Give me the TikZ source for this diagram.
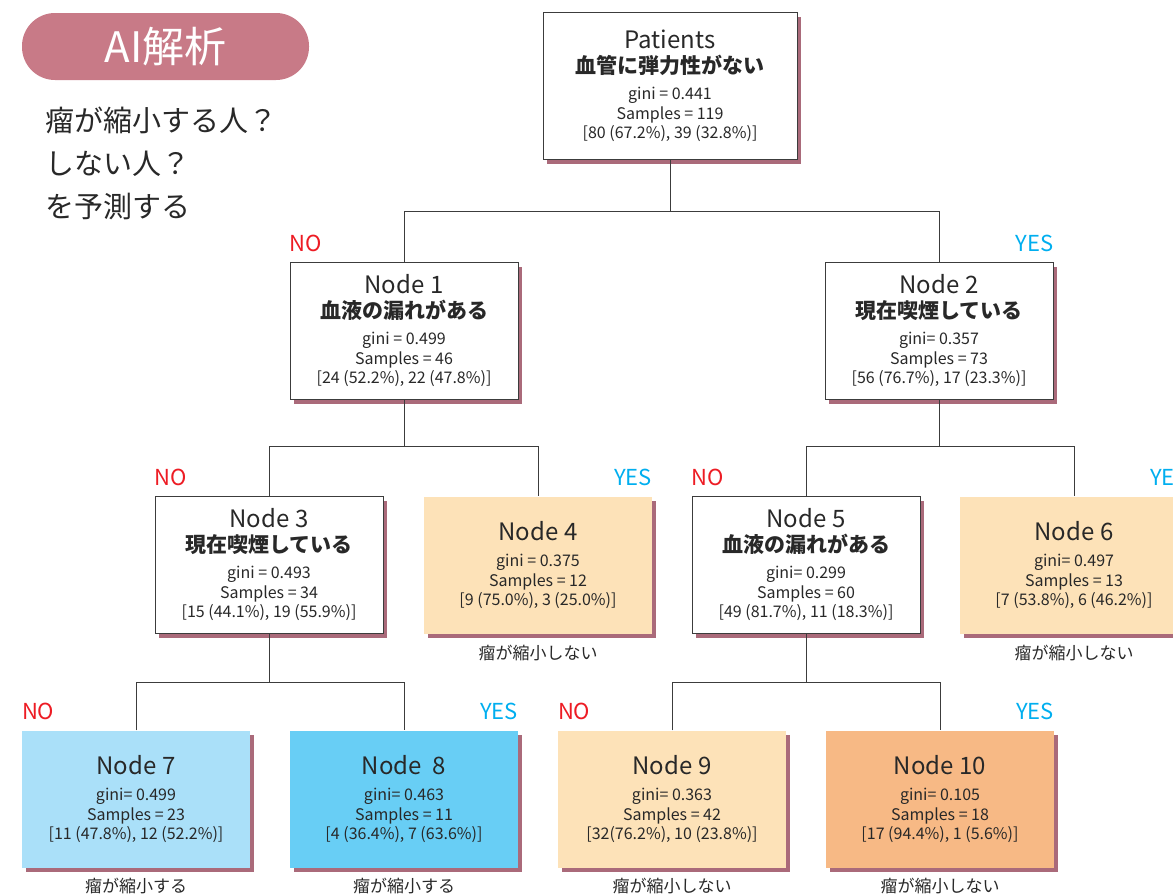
\documentclass[tikz,border=0pt]{standalone}
\usepackage{fontspec}
\setmainfont{Noto Sans CJK JP}
\usetikzlibrary{positioning,shadows}
\definecolor{shadowc}{RGB}{170,106,122}
\definecolor{pillc}{RGB}{200,122,135}
\definecolor{peach}{RGB}{253,226,184}
\definecolor{orng}{RGB}{247,185,133}
\definecolor{lblue}{RGB}{170,224,249}
\definecolor{cyanb}{RGB}{104,206,245}
\definecolor{noc}{RGB}{237,28,36}
\definecolor{yesc}{RGB}{0,174,239}
\definecolor{textc}{RGB}{40,40,40}
\definecolor{linec}{RGB}{60,60,60}
\newcommand{\titlef}{\fontsize{24}{26}\selectfont}
\newcommand{\jpf}{\fontsize{21}{24}\selectfont\bfseries}
\begin{document}
\begin{tikzpicture}[x=1pt,y=-1pt,
  box/.style={minimum width=228pt,minimum height=137pt,inner sep=0pt,align=center,
    text=textc,font=\fontsize{16}{19.5}\selectfont,
    drop shadow={shadow xshift=4pt,shadow yshift=-4pt,fill=shadowc,opacity=1}},
  wbox/.style={box,draw=linec,line width=0.8pt,fill=white},
  nolab/.style={text=noc,font=\fontsize{22}{24}\selectfont,inner sep=0pt},
  yeslab/.style={text=yesc,font=\fontsize{22}{24}\selectfont,inner sep=0pt},
  res/.style={text=textc,font=\fontsize{17}{18}\selectfont,inner sep=0pt},
  conn/.style={draw=linec,line width=0.8pt}]
\useasboundingbox (0,0) rectangle (1173,895);
% title and question
\node[fill=pillc,rounded corners=33pt,minimum width=287pt,minimum height=67pt,
  text=white,font=\fontsize{42}{44}\selectfont] (ai) at (165.5,46.5) {AI解析};
\node[anchor=north west,align=left,inner sep=0pt,text=textc,
  font=\fontsize{29}{43}\selectfont] (quest) at (45,107) {瘤が縮小する人？\\しない人？\\を予測する};
% tree
\node[wbox,minimum width=254pt,minimum height=147pt] (root) at (670,86)
  {{\titlef Patients}\\[5pt]{\jpf 血管に弾力性がない}\\[7pt]gini = 0.441\\Samples = 119\\{[}80 (67.2\%), 39 (32.8\%)]};
\node[wbox] (n1) at (404,331)
  {{\titlef Node 1}\\[5pt]{\jpf 血液の漏れがある}\\[7pt]gini = 0.499\\Samples = 46\\{[}24 (52.2\%), 22 (47.8\%)]};
\node[wbox] (n2) at (939,331)
  {{\titlef Node 2}\\[5pt]{\jpf 現在喫煙している}\\[7pt]gini= 0.357\\Samples = 73\\{[}56 (76.7\%), 17 (23.3\%)]};
\node[wbox] (n3) at (269,565)
  {{\titlef Node 3}\\[5pt]{\jpf 現在喫煙している}\\[7pt]gini = 0.493\\Samples = 34\\{[}15 (44.1\%), 19 (55.9\%)]};
\node[box,fill=peach] (n4) at (538,565)
  {{\titlef Node 4}\\[7pt]gini = 0.375\\Samples = 12\\{[}9 (75.0\%), 3 (25.0\%)]};
\node[wbox] (n5) at (806,565)
  {{\titlef Node 5}\\[5pt]{\jpf 血液の漏れがある}\\[7pt]gini= 0.299\\Samples = 60\\{[}49 (81.7\%), 11 (18.3\%)]};
\node[box,fill=peach] (n6) at (1074,565)
  {{\titlef Node 6}\\[7pt]gini= 0.497\\Samples = 13\\{[}7 (53.8\%), 6 (46.2\%)]};
\node[box,fill=lblue] (n7) at (136,799)
  {{\titlef Node 7}\\[7pt]gini= 0.499\\Samples = 23\\{[}11 (47.8\%), 12 (52.2\%)]};
\node[box,fill=cyanb] (n8) at (404,799)
  {{\titlef Node~~8}\\[7pt]gini= 0.463\\Samples = 11\\{[}4 (36.4\%), 7 (63.6\%)]};
\node[box,fill=peach] (n9) at (672,799)
  {{\titlef Node 9}\\[7pt]gini= 0.363\\Samples = 42\\{[}32(76.2\%), 10 (23.8\%)]};
\node[box,fill=orng] (n10) at (940,799)
  {{\titlef Node 10}\\[7pt]gini= 0.105\\Samples = 18\\{[}17 (94.4\%), 1 (5.6\%)]};
% connectors
\draw[conn] (root.south) -- ++(0,51) coordinate (j0);
\draw[conn] (n1.north) |- (j0) -| (n2.north);
\draw[conn] (n1.south) -- ++(0,46) coordinate (j1);
\draw[conn] (n3.north) |- (j1) -| (n4.north);
\draw[conn] (n2.south) -- ++(0,46) coordinate (j2);
\draw[conn] (n5.north) |- (j2) -| (n6.north);
\draw[conn] (n3.south) -- ++(0,48) coordinate (j3);
\draw[conn] (n7.north) |- (j3) -| (n8.north);
\draw[conn] (n5.south) -- ++(0,48) coordinate (j5);
\draw[conn] (n9.north) |- (j5) -| (n10.north);
% yes / no
\node[nolab,above right=10pt and 0pt of n1.north west] (no1) {NO};
\node[yeslab,above left=10pt and 0pt of n2.north east] (yes2) {YES};
\node[nolab,above right=10pt and 0pt of n3.north west] (no3) {NO};
\node[yeslab,above left=10pt and 0pt of n4.north east] (yes4) {YES};
\node[nolab,above right=10pt and 0pt of n5.north west] (no5) {NO};
\node[yeslab,above left=10pt and 0pt of n6.north east] (yes6) {YES};
\node[nolab,above right=10pt and 0pt of n7.north west] (no7) {NO};
\node[yeslab,above left=10pt and 0pt of n8.north east] (yes8) {YES};
\node[nolab,above right=10pt and 0pt of n9.north west] (no9) {NO};
\node[yeslab,above left=10pt and 0pt of n10.north east] (yes10) {YES};
% results
\node[res,below=11pt of n4.south] (r4) {瘤が縮小しない};
\node[res,below=11pt of n6.south] (r6) {瘤が縮小しない};
\node[res,below=10pt of n7.south] (r7) {瘤が縮小する};
\node[res,below=10pt of n8.south] (r8) {瘤が縮小する};
\node[res,below=10pt of n9.south] (r9) {瘤が縮小しない};
\node[res,below=10pt of n10.south] (r10) {瘤が縮小しない};
\end{tikzpicture}
\end{document}
